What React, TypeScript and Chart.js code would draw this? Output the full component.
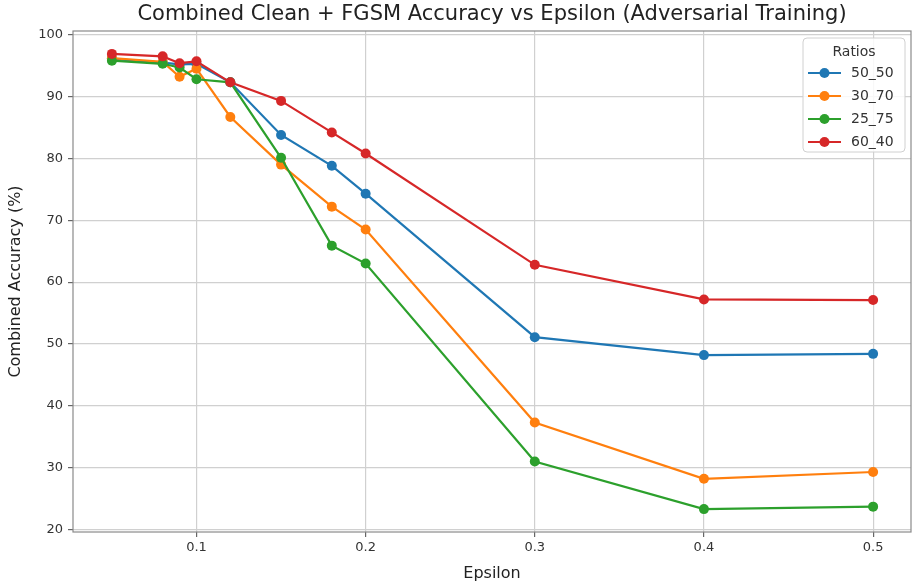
import React, { useEffect, useRef } from "react";
import { Chart, registerables } from "chart.js";
Chart.register(...registerables);

const epsilons = [0.05, 0.08, 0.09, 0.1, 0.12, 0.15, 0.18, 0.2, 0.3, 0.4, 0.5];
const ratio50_50 = [96.1, 95.5, 95.2, 95.3, 92.3, 83.8, 78.8, 74.3, 51.1, 48.2, 48.4];
const ratio30_70 = [96.2, 95.6, 93.2, 94.5, 86.7, 79.0, 72.2, 68.5, 37.3, 28.2, 29.3];
const ratio25_75 = [95.8, 95.3, 94.7, 92.8, 92.3, 80.1, 65.9, 63.0, 31.0, 23.3, 23.7];
const ratio60_40 = [96.9, 96.5, 95.4, 95.7, 92.3, 89.3, 84.2, 80.8, 62.8, 57.2, 57.1];

const seriesNames = ["50_50", "30_70", "25_75", "60_40"];
const seriesValues = [ratio50_50, ratio30_70, ratio25_75, ratio60_40];
const seriesColors = ["#1f77b4", "#ff7f0e", "#2ca02c", "#d62728"];

const xTickValues = [0.1, 0.2, 0.3, 0.4, 0.5];
const yTickValues = [20, 30, 40, 50, 60, 70, 80, 90, 100];

const titleText = "Combined Clean + FGSM Accuracy vs Epsilon (Adversarial Training)";
const xLabel = "Epsilon";
const yLabel = "Combined Accuracy (%)";
const legendTitle = "Ratios";

const FONT = '"DejaVu Sans", sans-serif';

const decorPlugin = {
  id: "decor",
  beforeDraw(chart: any) {
    const { ctx } = chart;
    ctx.save();
    ctx.fillStyle = "#ffffff";
    ctx.fillRect(0, 0, chart.width, chart.height);
    ctx.restore();
  },
  afterDraw(chart: any) {
    const { ctx, chartArea } = chart;
    const { left, right, top, bottom } = chartArea;
    ctx.save();
    // frame
    ctx.strokeStyle = "#8a8a8a";
    ctx.lineWidth = 1.2;
    ctx.strokeRect(left, top, right - left, bottom - top);
    // title
    ctx.fillStyle = "#222";
    ctx.font = `21px ${FONT}`;
    ctx.textAlign = "center";
    ctx.textBaseline = "middle";
    ctx.fillText(titleText, (left + right) / 2, 15);
    // legend
    const bw = 102;
    const bh = 114;
    const bx = right - 6 - bw;
    const by = top + 7;
    const r = 4;
    ctx.beginPath();
    ctx.moveTo(bx + r, by);
    ctx.lineTo(bx + bw - r, by);
    ctx.arcTo(bx + bw, by, bx + bw, by + r, r);
    ctx.lineTo(bx + bw, by + bh - r);
    ctx.arcTo(bx + bw, by + bh, bx + bw - r, by + bh, r);
    ctx.lineTo(bx + r, by + bh);
    ctx.arcTo(bx, by + bh, bx, by + bh - r, r);
    ctx.lineTo(bx, by + r);
    ctx.arcTo(bx, by, bx + r, by, r);
    ctx.closePath();
    ctx.fillStyle = "rgba(255,255,255,0.85)";
    ctx.fill();
    ctx.strokeStyle = "#d0d0d0";
    ctx.lineWidth = 1;
    ctx.stroke();
    ctx.fillStyle = "#333";
    ctx.font = `14px ${FONT}`;
    ctx.textAlign = "center";
    ctx.textBaseline = "middle";
    ctx.fillText(legendTitle, bx + bw / 2, by + 14);
    seriesNames.forEach((name, i) => {
      const y = by + 35 + i * 23;
      const x0 = bx + 5;
      const x1 = bx + 38;
      ctx.strokeStyle = seriesColors[i];
      ctx.lineWidth = 2.2;
      ctx.beginPath();
      ctx.moveTo(x0, y);
      ctx.lineTo(x1, y);
      ctx.stroke();
      ctx.fillStyle = seriesColors[i];
      ctx.beginPath();
      ctx.arc((x0 + x1) / 2, y, 5, 0, Math.PI * 2);
      ctx.fill();
      ctx.fillStyle = "#333";
      ctx.textAlign = "left";
      ctx.fillText(name, bx + 48, y);
    });
    ctx.restore();
  },
};

export default function App() {
  const ref = useRef<HTMLCanvasElement | null>(null);
  useEffect(() => {
    if (!ref.current) return;
    const chart = new Chart(ref.current, {
      type: "line",
      data: {
        datasets: seriesNames.map((name, i) => ({
          label: name,
          data: epsilons.map((x, j) => ({ x, y: seriesValues[i][j] })),
          borderColor: seriesColors[i],
          backgroundColor: seriesColors[i],
          pointBackgroundColor: seriesColors[i],
          pointBorderWidth: 0,
          pointRadius: 5,
          borderWidth: 2.2,
          tension: 0,
          fill: false,
          order: seriesNames.length - 1 - i,
        })),
      },
      options: {
        responsive: false,
        animation: false,
        devicePixelRatio: 1,
        layout: { padding: { top: 31, right: 3, left: 0, bottom: 0 } },
        plugins: {
          legend: { display: false },
          title: { display: false },
          tooltip: { enabled: false },
        },
        scales: {
          x: {
            type: "linear",
            min: 0.027,
            max: 0.5224,
            afterBuildTicks: (scale: any) => {
              scale.ticks = xTickValues.map((v) => ({ value: v }));
            },
            afterFit: (scale: any) => {
              scale.height = 53;
            },
            ticks: {
              color: "#333",
              font: { family: FONT, size: 13 },
              padding: 3,
              maxRotation: 0,
              autoSkip: false,
              callback: (v: any) => String(v),
            },
            grid: {
              color: "#d0d0d0",
              lineWidth: 1.2,
              tickColor: "#666",
              tickLength: 5,
            },
            border: { display: false },
            title: {
              display: true,
              text: xLabel,
              color: "#222",
              font: { family: FONT, size: 16 },
              padding: { top: 0, bottom: 2 },
            },
          },
          y: {
            type: "linear",
            min: 19.6,
            max: 100.6,
            afterBuildTicks: (scale: any) => {
              scale.ticks = yTickValues.map((v) => ({ value: v }));
            },
            afterFit: (scale: any) => {
              scale.width = 73;
            },
            ticks: {
              color: "#333",
              font: { family: FONT, size: 13 },
              padding: 5,
              autoSkip: false,
              callback: (v: any) => String(v),
            },
            grid: {
              color: "#d0d0d0",
              lineWidth: 1.2,
              tickColor: "#666",
              tickLength: 5,
            },
            border: { display: false },
            title: {
              display: true,
              text: yLabel,
              color: "#222",
              font: { family: FONT, size: 16 },
              padding: { top: 6, bottom: 0 },
            },
          },
        },
      },
      plugins: [decorPlugin],
    } as any);
    return () => chart.destroy();
  }, []);
  return (
    <div style={{ position: "absolute", left: 0, top: 0, width: 916, height: 585 }}>
      <canvas ref={ref} width={916} height={585} />
    </div>
  );
}
